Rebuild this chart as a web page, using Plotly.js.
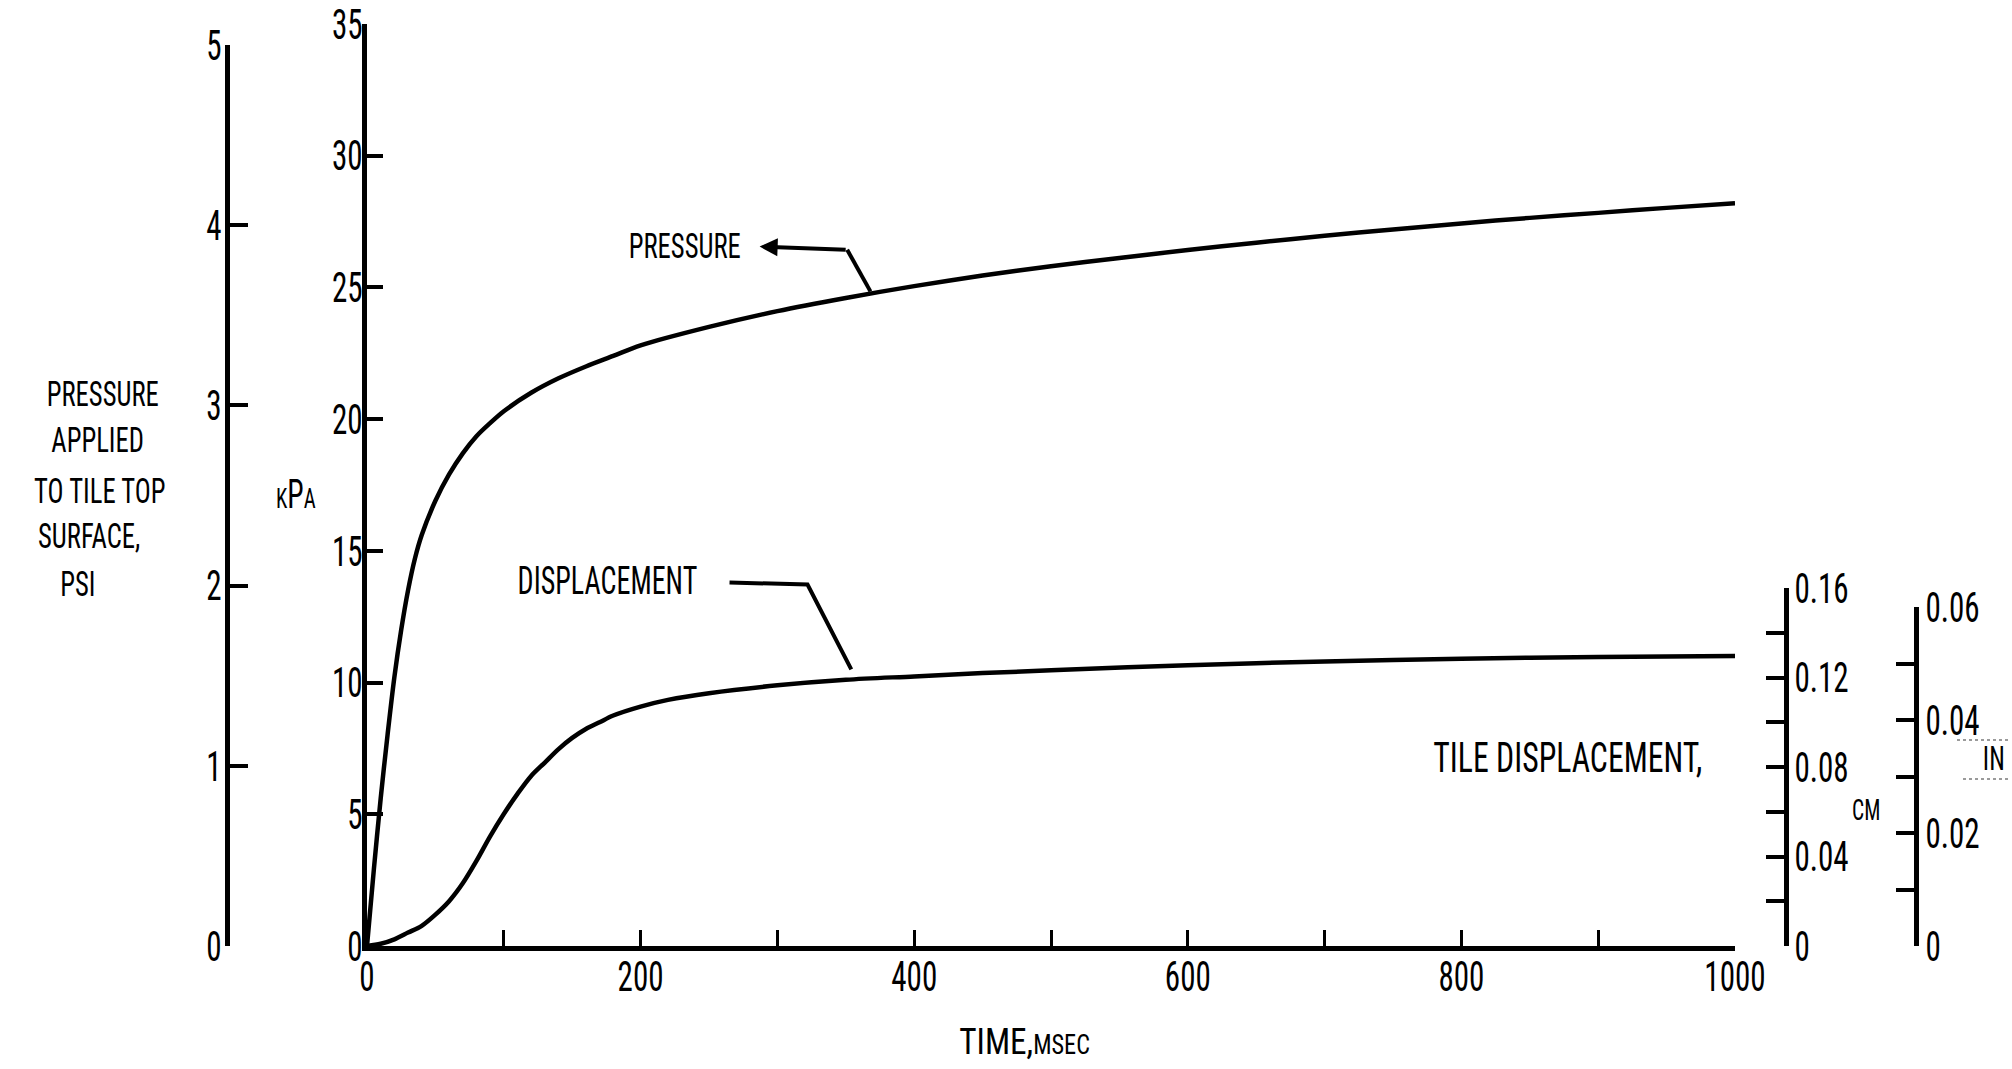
<!DOCTYPE html>
<html>
<head>
<meta charset="utf-8">
<script src="https://cdn.plot.ly/plotly-3.0.1.min.js"></script>
<style>
html,body{margin:0;padding:0;background:#fff;}
#chart{width:2012px;height:1069px;}
</style>
</head>
<body>
<div id="chart"></div>
<script>
// ---- data ----
const pressureTimeMs = [0,5,10,15,20,25,30,35,40,50,60,70,80,90,100,120,140,160,180,200,250,300,350,400,450,500,550,600,650,700,750,800,850,900,950,1000];
const pressureKPa    = [0,2.9,5.6,8.0,10.2,12.0,13.5,14.7,15.6,16.9,17.9,18.7,19.35,19.85,20.3,21.0,21.55,22.0,22.4,22.8,23.5,24.1,24.6,25.05,25.45,25.8,26.12,26.42,26.7,26.96,27.2,27.43,27.64,27.83,28.02,28.2];

const dispTimeMs = [0,10,20,30,40,50,60,70,80,90,100,110,120,130,140,150,160,170,180,200,220,250,300,350,400,450,500,600,700,800,900,1000];
const dispCm     = [0,0.001,0.003,0.006,0.009,0.014,0.020,0.028,0.038,0.049,0.059,0.068,0.076,0.082,0.088,0.093,0.097,0.100,0.103,0.107,0.110,0.113,0.1165,0.119,0.1205,0.122,0.1232,0.1255,0.1272,0.1284,0.1292,0.1296];

const timeTicks   = [0,100,200,300,400,500,600,700,800,900,1000];
const timeLabels  = ['0','','200','','400','','600','','800','','1000'];
const kpaTicks    = [0,5,10,15,20,25,30,35];
const psiTicks    = [0,1,2,3,4,5];
const cmTicks     = [0,0.02,0.04,0.06,0.08,0.10,0.12,0.14,0.16];
const cmLabels    = ['0','','0.04','','0.08','','0.12','','0.16'];
const inTicks     = [0,0.01,0.02,0.03,0.04,0.05,0.06];
const inLabels    = ['0','','0.02','','0.04','','0.06'];

// ---- layout geometry (pixels) ----
const W_PX = 2012, H_PX = 1069;
const L = 227, R = 1916, T = 24, B = 946;
const PW = R - L, PH = B - T;
const px = x => (x - L) / PW;
const py = y => (B - y) / PH;

const FONT = '"Liberation Sans Narrow", "Roboto Condensed", "DejaVu Sans Condensed", sans-serif';
const NARROW = 0.74;   // horizontal squeeze that imitates the tall, narrow lettering
const tickFont = {family: FONT, size: 42, color: '#000'};

const traces = [
  {x: pressureTimeMs, y: pressureKPa, xaxis: 'x', yaxis: 'y', type: 'scatter', mode: 'lines',
   line: {color: '#000', width: 4.5, shape: 'spline', smoothing: 0.9}, hoverinfo: 'skip'},
  {x: dispTimeMs, y: dispCm, xaxis: 'x', yaxis: 'y3', type: 'scatter', mode: 'lines',
   line: {color: '#000', width: 4.5, shape: 'spline', smoothing: 0.9}, hoverinfo: 'skip'},
  {x: [], y: [], xaxis: 'x', yaxis: 'y2', type: 'scatter', mode: 'lines', hoverinfo: 'skip'},
  {x: [], y: [], xaxis: 'x', yaxis: 'y4', type: 'scatter', mode: 'lines', hoverinfo: 'skip'}
];

const axisCommon = {showgrid: false, zeroline: false, showline: true, linecolor: '#000',
  linewidth: 5, ticks: 'inside', tickcolor: '#000', tickwidth: 4, ticklen: 16, tickfont: tickFont,
  fixedrange: true, ticklabeloverflow: 'allow'};

const x0 = 367, x1000 = 1735;
const cmAxisX = 1786;

function ann(text, xpix, ypix, size, extra) {
  return Object.assign({text: text, x: px(xpix), y: py(ypix), xref: 'paper', yref: 'paper',
    showarrow: false, xanchor: 'center', yanchor: 'middle',
    font: {family: FONT, size: size, color: '#000'}}, extra || {});
}

const annotations = [
  ann('PRESSURE', 103, 394, 36),
  ann('APPLIED', 97, 440, 36),
  ann('TO TILE TOP', 100, 491, 36),
  ann('SURFACE,', 89, 536, 36),
  ann('PSI', 78, 584, 36),
  ann('<span style="font-size:28px">K</span>P<span style="font-size:28px">A</span>', 296, 494, 40),
  ann('PRESSURE', 685, 246, 36),
  ann('DISPLACEMENT', 607, 581, 38),
  ann('TILE DISPLACEMENT,', 1568, 757, 43),
  ann('CM', 1866, 810, 29),
  ann('IN', 1994, 758, 34),
  ann('TIME,<span style="font-size:27px">MSEC</span>', 1024, 1041, 37),
  // arrow leader for PRESSURE label
  {x: 287, y: 26.55, xref: 'x', yref: 'y', ax: 351, ay: 26.43, axref: 'x', ayref: 'y',
   text: '', showarrow: true, arrowhead: 2, arrowsize: 0.9, arrowwidth: 4, arrowcolor: '#000'}
];

const shapes = [
  {type: 'path', xref: 'x', yref: 'y', path: 'M 351 26.43 L 368 24.85',
   line: {color: '#000', width: 4}},
  {type: 'path', xref: 'x', yref: 'y', path: 'M 265 13.8 L 322 13.72 L 354 10.5',
   line: {color: '#000', width: 4}},
  {type: 'line', xref: 'paper', yref: 'paper', x0: px(1957), x1: px(2010), y0: py(740), y1: py(740),
   line: {color: '#9a9a9a', width: 2, dash: 'dot'}},
  {type: 'line', xref: 'paper', yref: 'paper', x0: px(1963), x1: px(2010), y0: py(779), y1: py(779),
   line: {color: '#9a9a9a', width: 2, dash: 'dot'}}
];

const layout = {
  width: W_PX, height: H_PX,
  margin: {l: L, r: W_PX - R, t: T, b: H_PX - B, pad: 0},
  paper_bgcolor: '#fff', plot_bgcolor: 'rgba(0,0,0,0)',
  showlegend: false, hovermode: false,
  xaxis: Object.assign({}, axisCommon, {domain: [px(x0), px(x1000)], range: [0, 1000],
    tickmode: 'array', tickvals: timeTicks, ticktext: timeLabels, tickwidth: 3, anchor: 'y',
    ticklabelstandoff: -10}),
  yaxis: Object.assign({}, axisCommon, {domain: [0, 1], range: [0, 35], anchor: 'x',
    tickmode: 'array', tickvals: kpaTicks, ticktext: kpaTicks.map(String), side: 'left',
    ticklabelstandoff: -9}),
  yaxis2: Object.assign({}, axisCommon, {domain: [0, py(45)], range: [0, 5], anchor: 'free', position: 0,
    tickmode: 'array', tickvals: psiTicks, ticktext: psiTicks.map(String), side: 'left', ticklen: 18,
    ticklabelstandoff: -5}),
  yaxis3: Object.assign({}, axisCommon, {domain: [0, (952 - 594) / PH], range: [0, 0.16], anchor: 'free',
    position: px(cmAxisX), side: 'right', tickmode: 'array', tickvals: cmTicks, ticktext: cmLabels, ticklen: 18,
    ticklabelstandoff: -3}),
  yaxis4: Object.assign({}, axisCommon, {domain: [0, (952 - 613) / PH], range: [0, 0.06], anchor: 'free',
    position: 1, side: 'right', tickmode: 'array', tickvals: inTicks, ticktext: inLabels, ticklen: 18,
    ticklabelstandoff: -2}),
  annotations: annotations,
  shapes: shapes
};

// squeeze texts horizontally about their own anchor point, keeping Plotly's placement
function narrowText(gd) {
  gd.querySelectorAll('svg text').forEach(t => {
    if (t.dataset.narrowed) return;
    const content = t.textContent || '';
    const s = content.indexOf('TIME') === 0 ? 0.9 : NARROW;
    const ax = parseFloat(t.getAttribute('x') || '0') || 0;
    const tr = t.getAttribute('transform') || '';
    t.setAttribute('transform', (tr + ' translate(' + ax + ',0) scale(' + s + ',1) translate(' + (-ax) + ',0)').trim());
    t.dataset.narrowed = '1';
  });
}

Plotly.newPlot('chart', traces, layout, {displayModeBar: false, staticPlot: true})
  .then(gd => narrowText(gd));
</script>
</body>
</html>
